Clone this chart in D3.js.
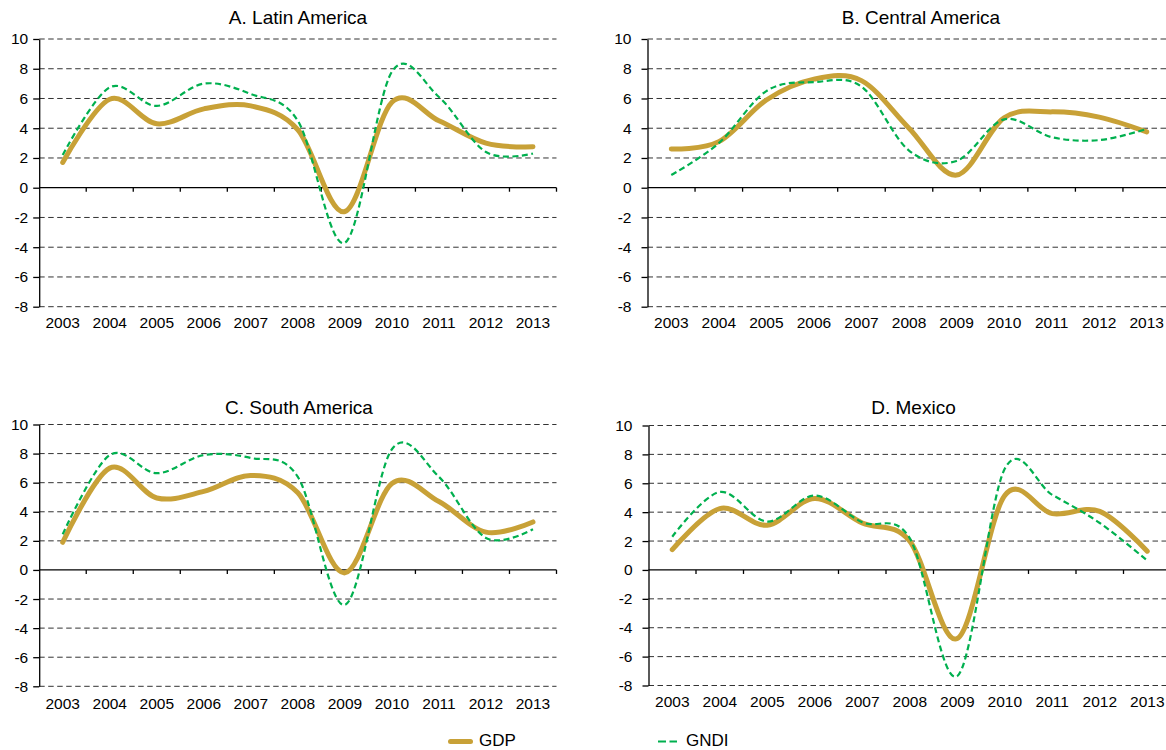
<!DOCTYPE html>
<html lang="en">
<head>
<meta charset="utf-8">
<title>GDP and GNDI growth, 2003-2013</title>
<script src="https://cdn.jsdelivr.net/npm/d3@7"></script>
<style>
    body { margin: 0; background: #fff; }
    svg text { font-family: "Liberation Sans", Arial, sans-serif; fill: #000; }
    .grid line { stroke: #333; stroke-width: 1; stroke-dasharray: 5.5,3.5; }
    .axis path, .axis line { stroke: #000; stroke-width: 1.3; }
    .axis text { font-size: 15.5px; }
    .title { font-size: 19px; }
    .legend text { font-size: 17px; }
</style>
</head>
<body>
<script>

// Data
var years = [2003, 2004, 2005, 2006, 2007, 2008, 2009, 2010, 2011, 2012, 2013];
var yTicks = [-8, -6, -4, -2, 0, 2, 4, 6, 8, 10];

var gdpLatin   = [1.7, 5.95, 4.3, 5.3, 5.5, 3.9, -1.6, 5.75, 4.5, 3.0, 2.75];
var gndiLatin  = [2.2, 6.75, 5.5, 7.0, 6.3, 4.5, -3.7, 7.8, 6.1, 2.4, 2.3];

var gdpCentral  = [2.6, 3.1, 5.9, 7.3, 7.2, 4.0, 0.85, 4.7, 5.1, 4.75, 3.75];
var gndiCentral = [0.85, 3.0, 6.5, 7.1, 6.8, 2.5, 1.8, 4.6, 3.4, 3.2, 3.95];

var gdpSouth  = [1.9, 7.0, 4.95, 5.4, 6.5, 5.3, -0.2, 5.95, 4.7, 2.6, 3.3];
var gndiSouth = [2.45, 7.9, 6.65, 7.9, 7.7, 6.4, -2.4, 8.3, 6.4, 2.2, 2.8];

var gdpMexico  = [1.4, 4.25, 3.1, 4.95, 3.25, 2.0, -4.75, 5.15, 3.9, 4.05, 1.3];
var gndiMexico = [2.3, 5.4, 3.35, 5.15, 3.3, 2.2, -7.35, 7.0, 5.2, 3.25, 0.65];

var gdpColor = "#C8A137";
var gndiColor = "#00B04F";

// Panel layout
var panels = [
    {title: "A. Latin America", gdp: gdpLatin, gndi: gndiLatin,
     x0: 39.2, x1: 556.5, top: 39, bottom: 306.7, titleX: 298, titleY: 17, gap: 5, labelY: 317},
    {title: "B. Central America", gdp: gdpCentral, gndi: gndiCentral,
     x0: 647.5, x1: 1170.5, top: 39, bottom: 306.7, titleX: 921, titleY: 17, gap: 10, labelY: 317},
    {title: "C. South America", gdp: gdpSouth, gndi: gndiSouth,
     x0: 39.2, x1: 556.5, top: 424.5, bottom: 686.3, titleX: 299, titleY: 407, gap: 5, labelY: 697.5},
    {title: "D. Mexico", gdp: gdpMexico, gndi: gndiMexico,
     x0: 648.5, x1: 1171, top: 425.5, bottom: 685.5, titleX: 913.5, titleY: 407, gap: 10, labelY: 696}
];

var svg = d3.select("body")
            .append("svg")
            .attr("width", 1166)
            .attr("height", 750);

panels.forEach(function(p) {
    var x = d3.scaleBand().domain(years).range([p.x0, p.x1]);
    var y = d3.scaleLinear().domain([-8, 10]).range([p.bottom, p.top]);
    var g = svg.append("g");

    // Title
    g.append("text")
     .attr("class", "title")
     .attr("x", p.titleX)
     .attr("y", p.titleY)
     .attr("text-anchor", "middle")
     .attr("dominant-baseline", "central")
     .text(p.title);

    // Dashed gridlines
    g.append("g")
     .attr("class", "grid")
     .selectAll("line")
     .data(yTicks.filter(function(d) { return d !== 0; }))
     .enter()
     .append("line")
     .attr("x1", p.x0)
     .attr("x2", p.x1)
     .attr("y1", function(d) { return y(d); })
     .attr("y2", function(d) { return y(d); });

    // Y axis
    g.append("g")
     .attr("class", "axis")
     .attr("transform", "translate(" + p.x0 + ",0)")
     .call(d3.axisLeft(y)
             .tickValues(yTicks)
             .tickSize(6)
             .tickSizeOuter(0)
             .tickPadding(p.gap)
             .tickFormat(function(d) { return String(d); }));

    // Zero line with category boundary ticks
    var zero = g.append("g").attr("class", "axis");
    zero.append("line")
        .attr("x1", p.x0).attr("x2", p.x1)
        .attr("y1", y(0)).attr("y2", y(0));
    zero.selectAll(".btick")
        .data(years)
        .enter()
        .append("line")
        .attr("class", "btick")
        .attr("x1", function(d) { return x(d) + x.bandwidth(); })
        .attr("x2", function(d) { return x(d) + x.bandwidth(); })
        .attr("y1", y(0))
        .attr("y2", y(0) + 4);

    // Year labels at the bottom
    var xl = g.append("g")
              .attr("class", "axis")
              .attr("transform", "translate(0," + p.labelY + ")")
              .call(d3.axisBottom(x).tickSize(0).tickPadding(0));
    xl.select(".domain").remove();

    var line = d3.line()
                 .x(function(d, i) { return x(years[i]) + x.bandwidth() / 2; })
                 .y(function(d) { return y(d); })
                 .curve(d3.curveCardinal.tension(0));

    g.append("path")
     .datum(p.gdp)
     .attr("d", line)
     .attr("fill", "none")
     .attr("stroke", gdpColor)
     .attr("stroke-width", 5)
     .attr("stroke-linecap", "round")
     .attr("stroke-linejoin", "round");

    g.append("path")
     .datum(p.gndi)
     .attr("d", line)
     .attr("fill", "none")
     .attr("stroke", gndiColor)
     .attr("stroke-width", 2.2)
     .attr("stroke-dasharray", "6,3.5");
});

// Legend
var legend = svg.append("g").attr("class", "legend");
legend.append("line")
      .attr("x1", 450.5).attr("x2", 470.5)
      .attr("y1", 741.5).attr("y2", 741.5)
      .attr("stroke", gdpColor)
      .attr("stroke-width", 5)
      .attr("stroke-linecap", "round");
legend.append("text")
      .attr("x", 479).attr("y", 746)
      .text("GDP");
legend.append("line")
      .attr("x1", 658).attr("x2", 677)
      .attr("y1", 741.5).attr("y2", 741.5)
      .attr("stroke", gndiColor)
      .attr("stroke-width", 2.2)
      .attr("stroke-dasharray", "8,3.5");
legend.append("text")
      .attr("x", 686).attr("y", 746)
      .text("GNDI");

</script>
</body>
</html>
